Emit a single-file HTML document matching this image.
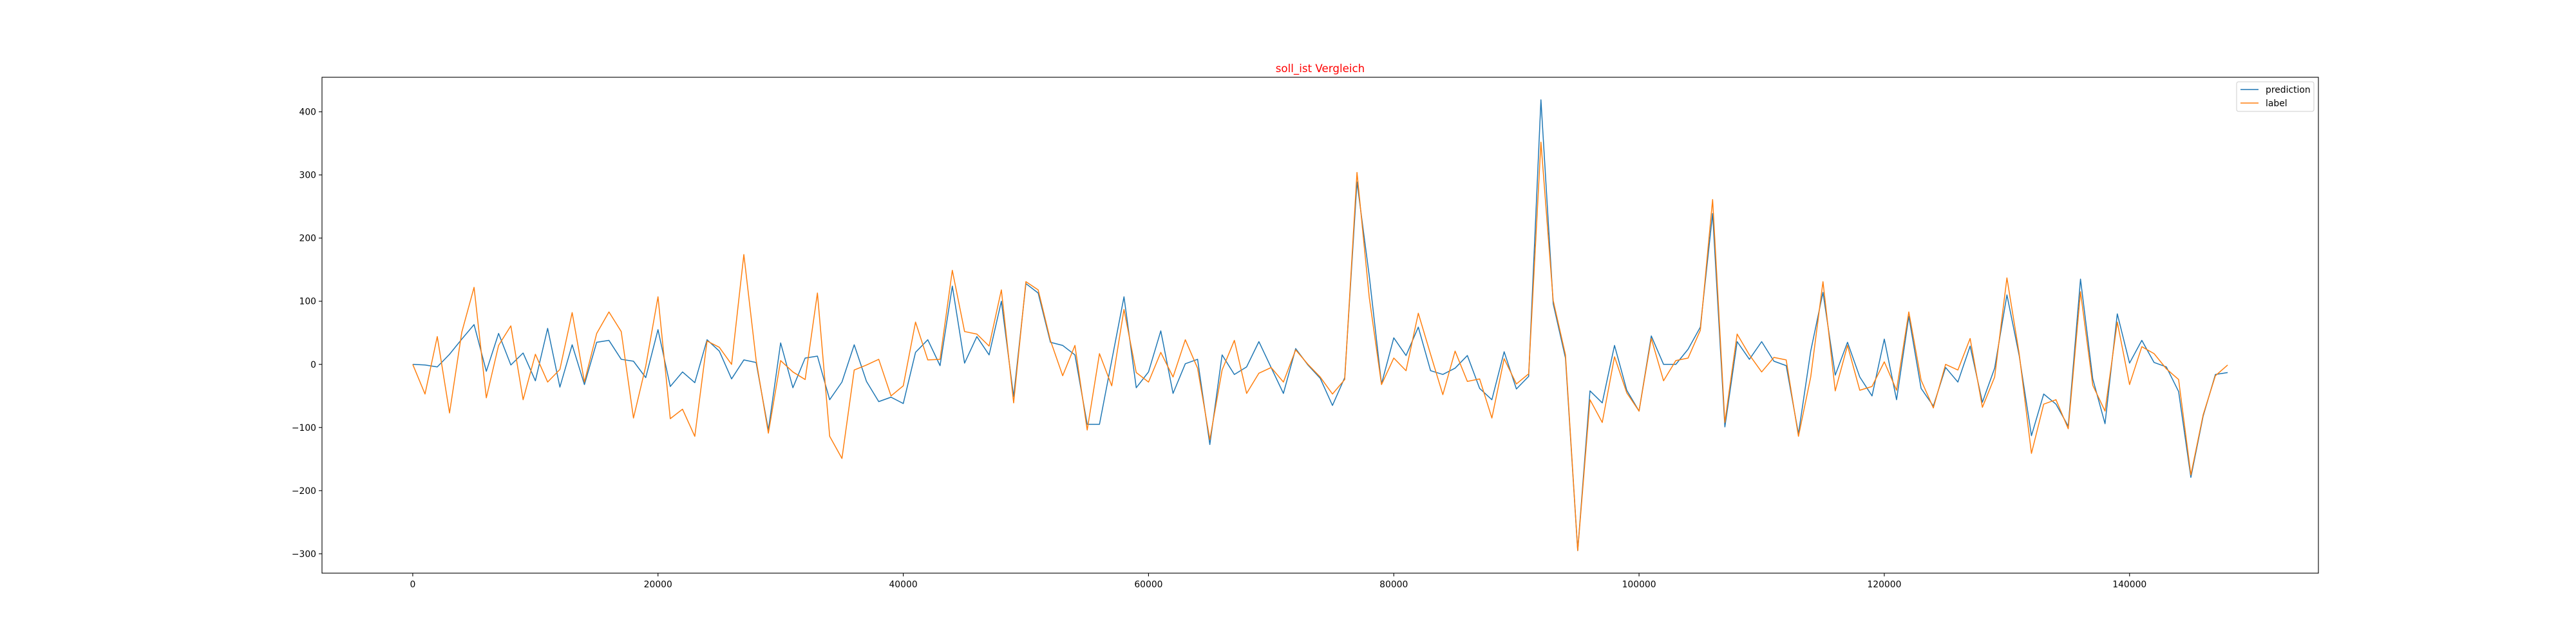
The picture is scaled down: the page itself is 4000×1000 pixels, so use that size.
<!DOCTYPE html>
<html><head><meta charset="utf-8"><style>
html,body{margin:0;padding:0;background:#fff;}
svg{display:block;font-family:"DejaVu Sans","Liberation Sans",sans-serif;}
</style></head><body>
<svg id="chart" width="4000" height="1000" viewBox="0 0 4000 1000" xmlns="http://www.w3.org/2000/svg">
<rect x="0" y="0" width="4000" height="1000" fill="#fff"/>
<text x="2050" y="112" text-anchor="middle" font-size="16.7" fill="red">soll_ist Vergleich</text>
<g id="plot"></g>
<g id="xticks"></g>
<g id="yticks"></g>
<rect x="500" y="120" width="3100" height="770" fill="none" stroke="#000" stroke-width="1.1"/>
<g>
<rect x="3473" y="127" width="120" height="46" rx="3" fill="#fff" fill-opacity="0.8" stroke="#ccc" stroke-width="1"/>
<line x1="3479" y1="139" x2="3507" y2="139" stroke="#1f77b4" stroke-width="1.5"/>
<text x="3518" y="144" font-size="13.9" fill="#000">prediction</text>
<line x1="3479" y1="160" x2="3507" y2="160" stroke="#ff7f0e" stroke-width="1.5"/>
<text x="3518" y="165" font-size="13.9" fill="#000">label</text>
</g>
</svg>
<script>
const xStep = 1000;
const prediction = [0,-1,-4,16,40,63,-11,49,-1,18,-26,57,-36,31,-32,35,38,8,5,-21,55,-35,-12,-29,39,21,
-23,7,3,-104,34,-37,10,13,-56,-28,31,-27,-59,-52,-62,19,39,-2,124,2,44,15,100,-51,128,
113,35,30,15,-95,-95,6,107,-37,-12,53,-46,1,8,-127,15,-16,-4,36,-5,-46,25,-1,-22,-65,
-21,289,140,-31,42,14,59,-10,-16,-6,14,-38,-56,20,-39,-19,419,96,10,-295,-42,-61,30,-41,-74,
45,0,0,24,59,239,-99,36,8,36,5,-2,-110,21,114,-17,35,-20,-50,40,-56,76,-38,-66,-5,
-28,29,-60,-6,110,14,-113,-47,-63,-98,135,-23,-94,80,2,38,3,-4,-43,-179,-82,-16,-13];
const label = [0,-47,44,-77,51,122,-53,30,61,-56,16,-28,-8,82,-28,49,83,52,-85,-3,107,-86,-71,-114,37,27,
0,174,7,-109,6,-12,-24,113,-114,-149,-9,-1,8,-50,-34,67,7,8,149,52,48,29,118,-61,131,
118,38,-18,30,-104,17,-34,87,-13,-28,19,-20,39,-6,-119,-9,38,-46,-14,-5,-28,23,0,-20,-47,
-24,304,106,-32,10,-10,81,16,-48,21,-27,-23,-85,9,-31,-15,352,101,15,-295,-56,-92,12,-45,-74,
41,-26,6,10,54,261,-92,48,15,-12,11,7,-114,-20,131,-42,30,-41,-35,4,-41,83,-25,-69,0,
-9,41,-68,-20,137,17,-141,-63,-56,-102,115,-33,-74,67,-32,28,17,-7,-24,-175,-80,-18,-1];
const xTicks = [0,20000,40000,60000,80000,100000,120000,140000];
const yTicks = [-300,-200,-100,0,100,200,300,400];

const NS = "http://www.w3.org/2000/svg";
const X0=500, X1=3600, Y0=890, Y1=120;
const n = Math.max(prediction.length, label.length);
const xmax = (n-1)*xStep;
const xpad = xmax*0.05;
const allV = prediction.concat(label);
const vmin = Math.min(...allV), vmax = Math.max(...allV);
const ypad = (vmax-vmin)*0.05;
function sx(v){return X0 + (v-(-xpad))/(xmax+2*xpad)*(X1-X0);}
function sy(v){return Y0 - (v-(vmin-ypad))/((vmax+ypad)-(vmin-ypad))*(Y0-Y1);}

const plot = document.getElementById('plot');
function series(arr, color, name){
  const p = document.createElementNS(NS,'polyline');
  p.setAttribute('points', arr.map((v,i)=>sx(i*xStep).toFixed(2)+','+sy(v).toFixed(2)).join(' '));
  p.setAttribute('fill','none');
  p.setAttribute('stroke',color);
  p.setAttribute('stroke-width','1.5');
  p.setAttribute('stroke-linejoin','round');
  
  
  plot.appendChild(p);
}
series(prediction,'#1f77b4','prediction-line');
series(label,'#ff7f0e','label-line');

const xg = document.getElementById('xticks');
xTicks.forEach(t=>{
  const x = sx(t);
  const l = document.createElementNS(NS,'line');
  l.setAttribute('x1',x);l.setAttribute('x2',x);l.setAttribute('y1',Y0);l.setAttribute('y2',Y0+5);
  l.setAttribute('stroke','#000');l.setAttribute('stroke-width','1.1');
  
  
  xg.appendChild(l);
  const tx = document.createElementNS(NS,'text');
  tx.setAttribute('x',x);tx.setAttribute('y',Y0+22);tx.setAttribute('text-anchor','middle');
  tx.setAttribute('font-size','13.9');
  tx.textContent = t;
  
  
  xg.appendChild(tx);
});
const yg = document.getElementById('yticks');
yTicks.forEach(t=>{
  const y = sy(t);
  const l = document.createElementNS(NS,'line');
  l.setAttribute('x1',X0-5);l.setAttribute('x2',X0);l.setAttribute('y1',y);l.setAttribute('y2',y);
  l.setAttribute('stroke','#000');l.setAttribute('stroke-width','1.1');
  
  
  yg.appendChild(l);
  const tx = document.createElementNS(NS,'text');
  tx.setAttribute('x',X0-9);tx.setAttribute('y',y+5);tx.setAttribute('text-anchor','end');
  tx.setAttribute('font-size','13.9');
  tx.textContent = t<0 ? '\u2212'+Math.abs(t) : String(t);
  
  
  yg.appendChild(tx);
});
</script>
</body></html>
